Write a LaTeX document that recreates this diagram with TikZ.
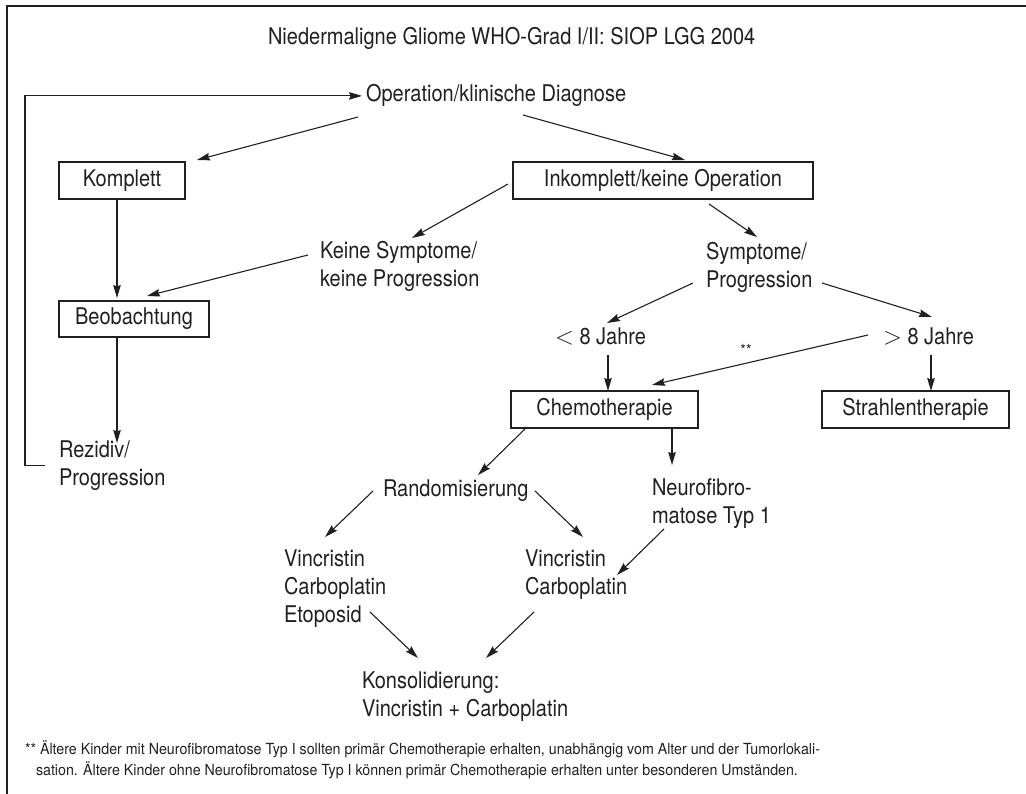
\documentclass[tikz,border=0pt]{standalone}
\usepackage{fontspec}
\setmainfont{TeX Gyre Heros}[FakeStretch=0.87]
\newfontfamily\notefont{TeX Gyre Heros}[FakeStretch=0.93]
\usetikzlibrary{arrows.meta,calc}
\definecolor{ink}{HTML}{231F20}
\begin{document}
\begin{tikzpicture}[x=1pt,y=-1pt,
  every node/.style={inner sep=0pt,outer sep=0pt,text=ink},
  lbl/.style={font=\fontsize{23}{28}\selectfont,align=left},
  boxnode/.style={lbl,draw=ink,line width=1.2pt,minimum height=37pt,align=center},
  arr/.style={draw=ink,line width=1.1pt,-{Stealth[length=13pt,width=7.5pt,inset=1.5pt]}},
  note/.style={font=\notefont\fontsize{15.3}{21}\selectfont,align=left}]
\useasboundingbox (0,0) rectangle (1026,794);
% outer frame
\draw[ink,line width=2pt] (6.5,800) -- (6.5,6.5) -- (1030,6.5);

% title and start
\node[lbl,anchor=base west] (title) at (268,45) {Niedermaligne Gliome WHO-Grad I/II: SIOP LGG 2004};
\node[lbl,anchor=base west] (op) at (366,102) {Operation/klinische Diagnose};

% boxes
\node[boxnode,minimum width=126pt] (kompl) at (122,180.5) {Komplett};
\node[boxnode,minimum width=300pt] (inkompl) at (663,180.5) {Inkomplett/keine Operation};
\node[boxnode,minimum width=150pt,minimum height=36pt] (beob) at (134,319) {Beobachtung};
\node[boxnode,minimum width=187pt] (chemo) at (604.5,409.5) {Chemotherapie};
\node[boxnode,minimum width=187pt] (strahl) at (915.5,409.5) {Strahlentherapie};

% plain labels
\node[lbl,anchor=north west] (keine) at (320,241) {Keine Symptome/\\keine Progression};
\node[lbl,anchor=north west] (sympt) at (706,242) {Symptome/\\Progression};
\node[lbl,anchor=north west] (rez) at (59,441) {Rezidiv/\\Progression};
\node[lbl,anchor=base west] (lt8) at (555,345) {$<$ 8 Jahre};
\node[lbl,anchor=base west] (gt8) at (883,345) {$>$ 8 Jahre};
\node[note] (stars) at (746,350) {**};
\node[lbl,anchor=base west] (rand) at (383,496) {Randomisierung};
\node[lbl,anchor=north west] (neuro) at (652,479) {Neurofibro-\\matose Typ 1};
\node[lbl,anchor=north west] (vce) at (284,550) {Vincristin\\Carboplatin\\Etoposid};
\node[lbl,anchor=north west] (vc) at (525,550) {Vincristin\\Carboplatin};
\node[lbl,anchor=north west] (kons) at (362,672) {Konsolidierung:\\Vincristin + Carboplatin};

% footnote
\node[note,anchor=north west] (fn) at (25,741) {** Ältere Kinder mit Neurofibromatose Typ I sollten primär Chemotherapie erhalten, unabhängig vom Alter und der Tumorlokali-\\\hspace*{11pt}sation. Ältere Kinder ohne Neurofibromatose Typ I können primär Chemotherapie erhalten unter besonderen Umständen.};

% connectors
\draw[arr] ([xshift=-14pt]rez.west) -- ++(-20,0) |- ([xshift=-4pt]op.west);
\draw[arr] ($(op.south west)+(-8,10)$) -- ($(kompl.north east)+(12,-2)$);
\draw[arr] ($(op.south)+(27,8)$) -- ($(inkompl.north)+(22,-2)$);
\draw[arr] ($(inkompl.west)+(-5,3.5)$) -- ($(keine.north west)+(92,-3)$);
\draw[arr] ($(keine.north west)+(-12,14)$) -- ($(beob.north)+(13,-5)$);
\draw[arr] ([xshift=-5pt]kompl.south) -- ($(beob.north)+(-17,-3)$);
\draw[arr] ($(beob.south)+(-17,0)$) -- ($(rez.north west)+(58,2)$);
\draw[arr] ($(inkompl.south)+(46,5)$) -- ($(sympt.north west)+(51,-5)$);
\draw[arr] ($(sympt.north west)+(-13,41)$) -- ($(lt8.base west)+(52,-22)$);
\draw[arr] ($(sympt.north west)+(116,41)$) -- ($(gt8.base west)+(49,-28)$);
\draw[arr] ($(lt8.base west)+(53,10)$) -- ($(chemo.north)+(3.5,0)$);
\draw[arr] ($(gt8.base west)+(-15,-10)$) -- ($(chemo.north)+(47.5,-6)$);
\draw[arr] ($(gt8.base west)+(48,10)$) -- ($(strahl.north)+(15.5,0)$);
\draw[arr] ($(chemo.south west)+(14,1)$) -- ($(rand.base west)+(95,-21)$);
\draw[arr] ($(chemo.south)+(67.5,0)$) -- ($(neuro.north west)+(20,-14)$);
\draw[arr] ($(rand.base west)+(-10,-5)$) -- ($(vce.north west)+(41,-13)$);
\draw[arr] ($(rand.base west)+(152,-5)$) -- ($(vc.north west)+(58,-13)$);
\draw[arr] ($(neuro.north west)+(12,50)$) -- ($(vc.north west)+(92,25)$);
\draw[arr] ($(vce.north west)+(86,62)$) -- ($(kons.north west)+(56,-14)$);
\draw[arr] ($(vc.north west)+(9,62)$) -- ($(kons.north west)+(124,-14)$);
\end{tikzpicture}
\end{document}
